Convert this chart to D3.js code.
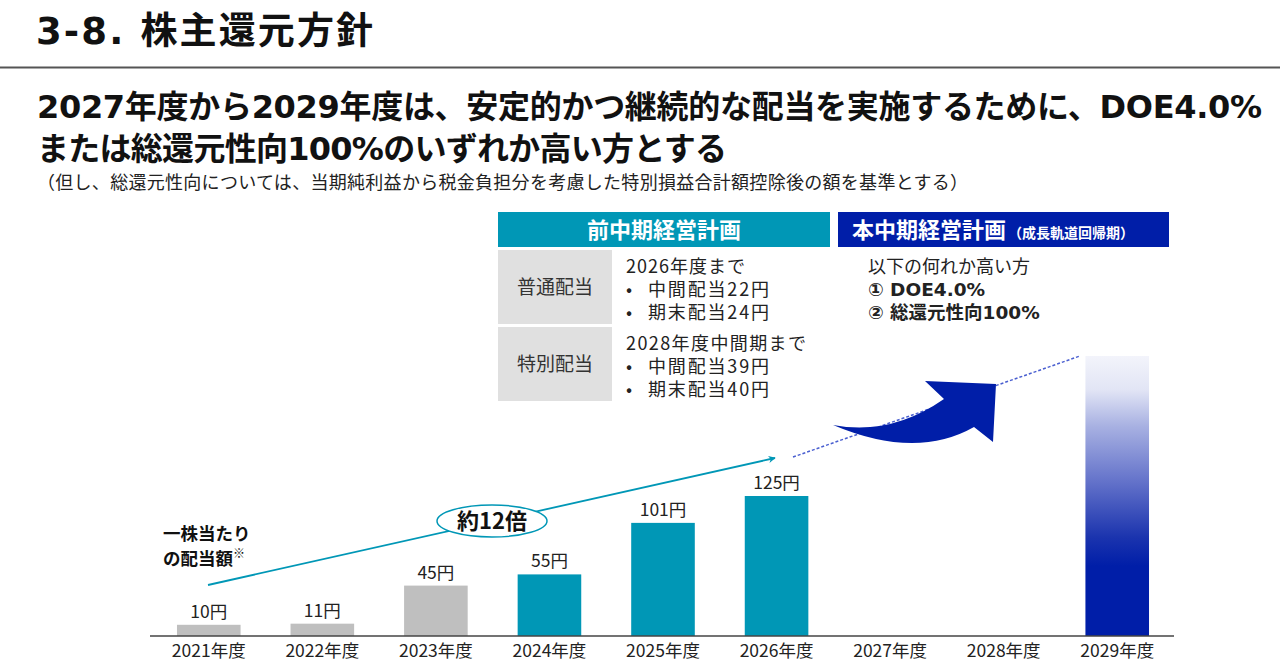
<!DOCTYPE html>
<html>
<head>
<meta charset="utf-8">
<script src="https://cdn.jsdelivr.net/npm/d3@7"></script>
<style>
  body { margin: 0; background: #fff; }
  svg { display: block; }
  text { font-family: "DejaVu Sans", "Noto Sans CJK JP", sans-serif; }
  .jp { font-family: "Noto Sans CJK JP", sans-serif; }
</style>
</head>
<body>
<svg id="chart" width="1280" height="663"></svg>
<script>
// data
var years = ["2021年度", "2022年度", "2023年度", "2024年度", "2025年度", "2026年度", "2027年度", "2028年度", "2029年度"];
var dividends = [10, 11, 45, 55, 101, 125, null, null, 250];
var valueLabels = ["10円", "11円", "45円", "55円", "101円", "125円", "", "", ""];
var barGroup = ["old", "old", "old", "prev", "prev", "prev", "none", "none", "new"];

var prevPlanRows = [
  { head: "普通配当", lines: ["2026年度まで", "中間配当22円", "期末配当24円"] },
  { head: "特別配当", lines: ["2028年度中間期まで", "中間配当39円", "期末配当40円"] }
];
var newPlanLines = ["以下の何れか高い方", "① DOE4.0%", "② 総還元性向100%"];

var teal = "#0097b6", navy = "#001ea8", grey = "#bfbfbf";

var svg = d3.select("#chart");
var defs = svg.append("defs");

// header
svg.append("text").attr("x", 36).attr("y", 44)
  .attr("font-size", 37).attr("font-weight", "bold").attr("fill", "#111")
  .attr("textLength", 337)
  .text("3-8. 株主還元方針");
svg.append("line").attr("x1", 0).attr("x2", 1280).attr("y1", 67.5).attr("y2", 67.5)
  .attr("stroke", "#555").attr("stroke-width", 2);

svg.append("text").attr("x", 37).attr("y", 118)
  .attr("font-size", 32).attr("font-weight", "bold").attr("fill", "#111")
  .attr("textLength", 1225)
  .text("2027年度から2029年度は、安定的かつ継続的な配当を実施するために、DOE4.0%");
svg.append("text").attr("x", 37).attr("y", 160)
  .attr("font-size", 32).attr("font-weight", "bold").attr("fill", "#111")
  .attr("textLength", 690)
  .text("または総還元性向100%のいずれか高い方とする");
svg.append("text").attr("class", "jp").attr("x", 37).attr("y", 189)
  .attr("font-size", 18).attr("fill", "#222")
  .attr("textLength", 931)
  .text("（但し、総還元性向については、当期純利益から税金負担分を考慮した特別損益合計額控除後の額を基準とする）");

// plan table
svg.append("rect").attr("x", 498).attr("y", 212).attr("width", 332).attr("height", 35).attr("fill", teal);
svg.append("text").attr("class", "jp").attr("x", 664).attr("y", 238).attr("text-anchor", "middle")
  .attr("font-size", 22).attr("font-weight", "bold").attr("fill", "#fff").text("前中期経営計画");
svg.append("rect").attr("x", 838).attr("y", 212).attr("width", 331).attr("height", 35).attr("fill", navy);
var nh = svg.append("text").attr("class", "jp").attr("x", 852).attr("y", 238)
  .attr("font-weight", "bold").attr("fill", "#fff");
nh.append("tspan").attr("font-size", 22).text("本中期経営計画");
nh.append("tspan").attr("font-size", 14).attr("dx", 2).text("（成長軌道回帰期）");

prevPlanRows.forEach(function(r, i) {
  var y0 = 250 + i * 77;
  svg.append("rect").attr("x", 498).attr("y", y0).attr("width", 114).attr("height", 74).attr("fill", "#e0e0e0");
  svg.append("text").attr("class", "jp").attr("x", 555).attr("y", y0 + 44).attr("text-anchor", "middle")
    .attr("font-size", 19).attr("fill", "#333").text(r.head);
  r.lines.forEach(function(t, j) {
    var ty = y0 + 23 + j * 23;
    if (j == 0) {
      svg.append("text").attr("class", "jp").attr("x", 626).attr("y", ty)
        .attr("font-size", 18).attr("fill", "#222").attr("textLength", j == 0 && i == 1 ? 180 : 119)
        .text(t);
    } else {
      svg.append("text").attr("class", "jp").attr("x", 626).attr("y", ty)
        .attr("font-size", 18).attr("fill", "#222").text("•");
      svg.append("text").attr("class", "jp").attr("x", 648).attr("y", ty)
        .attr("font-size", 18).attr("fill", "#222").attr("textLength", 121).text(t);
    }
  });
});
newPlanLines.forEach(function(t, j) {
  svg.append("text").attr("x", 868).attr("y", 273 + j * 23)
    .attr("font-size", j > 0 ? 18.5 : 18).attr("font-weight", j > 0 ? "bold" : "normal").attr("fill", "#222")
    .attr("class", j == 0 ? "jp" : null).text(t);
});

// scales
var x = d3.scaleBand().domain(years).range([152, 1174]).paddingInner(0.44).paddingOuter(0.22);
var y = d3.scaleLinear().domain([0, 250]).range([636, 356]);

var grad = defs.append("linearGradient").attr("id", "newGrad")
  .attr("x1", 0).attr("y1", 0).attr("x2", 0).attr("y2", 1);
[[0, "#f3f4fb"], [0.12, "#e2e5f5"], [0.25, "#a8b1e2"], [0.45, "#6372ca"], [0.65, "#1a33ae"], [0.75, navy], [1, navy]]
  .forEach(function(s) { grad.append("stop").attr("offset", s[0]).attr("stop-color", s[1]); });

function barFill(g) {
  if (g == "old") return grey;
  if (g == "prev") return teal;
  return "url(#newGrad)";
}

var bars = years.map(function(yr, i) {
  return { year: yr, value: dividends[i], label: valueLabels[i], group: barGroup[i] };
}).filter(function(d) { return d.value != null; });

svg.selectAll("rect.bar")
  .data(bars)
  .enter().append("rect")
  .attr("class", "bar")
  .attr("x", function(d) { return x(d.year); })
  .attr("y", function(d) { return y(d.value); })
  .attr("width", x.bandwidth())
  .attr("height", function(d) { return y(0) - y(d.value); })
  .attr("fill", function(d) { return barFill(d.group); });

svg.selectAll("text.vlab")
  .data(bars.filter(function(d) { return d.label; }))
  .enter().append("text")
  .attr("class", "vlab jp")
  .attr("x", function(d) { return x(d.year) + x.bandwidth() / 2; })
  .attr("y", function(d) { return y(d.value) - 7; })
  .attr("text-anchor", "middle")
  .attr("font-size", 17.5)
  .attr("fill", "#222")
  .text(function(d) { return d.label; });

// x axis
var xAxis = svg.append("g").attr("transform", "translate(0," + y(0) + ")")
  .call(d3.axisBottom(x).tickSize(0).tickPadding(9));
xAxis.select(".domain").attr("d", "M150,0H1174").attr("stroke", "#444").attr("stroke-width", 1.5);
xAxis.selectAll("text").attr("class", "jp").attr("font-size", 17.5).attr("fill", "#222")
  .attr("font-family", "'Noto Sans CJK JP', sans-serif");

// y label
svg.append("text").attr("class", "jp").attr("x", 163).attr("y", 540)
  .attr("font-size", 17.5).attr("font-weight", "bold").attr("fill", "#111").text("一株当たり");
var yl = svg.append("text").attr("class", "jp").attr("x", 163).attr("y", 565)
  .attr("font-size", 17.5).attr("font-weight", "bold").attr("fill", "#111");
yl.append("tspan").text("の配当額");
yl.append("tspan").attr("font-size", 12).attr("dy", -7).text("※");

// growth arrow (teal)
defs.append("marker").attr("id", "tealHead").attr("viewBox", "0 0 10 10")
  .attr("refX", 9).attr("refY", 5).attr("markerWidth", 4).attr("markerHeight", 4)
  .attr("orient", "auto")
  .append("path").attr("d", "M0,0L10,5L0,10L3,5Z").attr("fill", teal);
svg.append("line").attr("x1", 208).attr("y1", 585).attr("x2", 775).attr("y2", 458)
  .attr("stroke", teal).attr("stroke-width", 1.8).attr("marker-end", "url(#tealHead)");
svg.append("ellipse").attr("cx", 492).attr("cy", 521).attr("rx", 55).attr("ry", 16)
  .attr("fill", "#fff").attr("stroke", teal).attr("stroke-width", 1.5);
svg.append("text").attr("class", "jp").attr("x", 492).attr("y", 529).attr("text-anchor", "middle")
  .attr("font-size", 22).attr("font-weight", "bold").attr("fill", "#111").text("約12倍");

// dotted continuation
svg.append("line").attr("x1", 793).attr("y1", 457).attr("x2", 1080).attr("y2", 356)
  .attr("stroke", "#4a5fd0").attr("stroke-width", 1.5).attr("stroke-dasharray", "3,2");

// curved blue arrow
svg.append("path")
  .attr("d", "M833,425Q891,436 944,399L925,381L996,384L993,442L974,427Q916,460 833,425Z")
  .attr("fill", navy);
</script>
</body>
</html>
